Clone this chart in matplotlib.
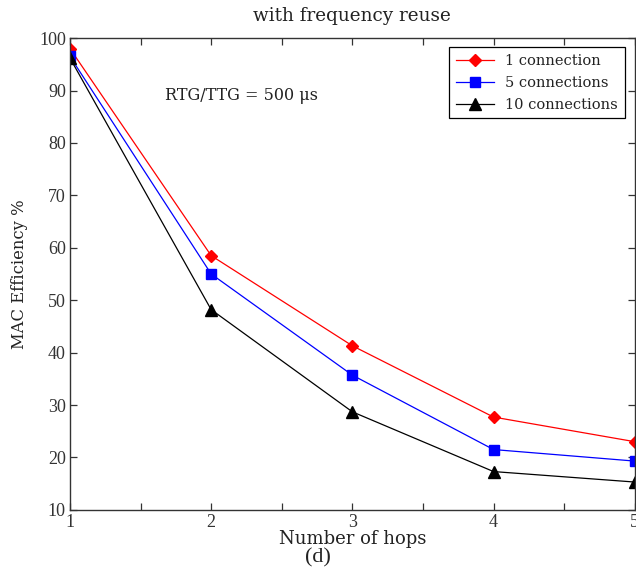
import matplotlib
matplotlib.use("Agg")
import matplotlib.pyplot as plt
from matplotlib.ticker import MultipleLocator

hops = [1, 2, 3, 4, 5]
eff_1conn = [98.0, 58.5, 41.3, 27.7, 23.0]
eff_5conn = [96.5, 55.0, 35.7, 21.5, 19.3]
eff_10conn = [96.2, 48.2, 28.7, 17.3, 15.3]
x_ticklabels = ["1", "", "2", "", "3", "", "4", "", "5"]

plt.rcParams["font.family"] = ["Liberation Serif", "DejaVu Serif"]
slab = ["DejaVu Serif"]
txt = "#222222"

fig = plt.figure(figsize=(6.36, 5.69), dpi=100)
ax = fig.add_axes([0.110, 0.104, 0.888, 0.829])

ax.plot(hops, eff_1conn, color="#ff0000", marker="D", markersize=6.5,
        linewidth=0.9, label="1 connection")
ax.plot(hops, eff_5conn, color="#0000ff", marker="s", markersize=7.5,
        linewidth=0.9, label="5 connections")
ax.plot(hops, eff_10conn, color="black", marker="^", markersize=8,
        linewidth=0.9, label="10 connections")

ax.set_xlim(1, 5)
ax.set_ylim(10, 100)
ax.set_xticks([1, 1.5, 2, 2.5, 3, 3.5, 4, 4.5, 5])
ax.set_xticklabels(x_ticklabels)
ax.yaxis.set_major_locator(MultipleLocator(10))
ax.tick_params(direction="in", top=True, right=True, length=5,
               labelsize=13, width=0.9, colors="#333333", pad=3)
for s in ax.spines.values():
    s.set_linewidth(1.0)
    s.set_color("#333333")

ax.set_xlabel("Number of hops", fontsize=13, family=slab, color=txt, labelpad=-1)
ax.set_ylabel("MAC Efficiency %", fontsize=11.8, family=slab, color=txt, labelpad=8)
ax.set_title("with frequency reuse", fontsize=13.2, family=slab, color=txt, pad=12)
ax.text(1.67, 89.1, "RTG/TTG = 500 \u03bcs", fontsize=11.5, family=slab,
        color=txt, va="center")

leg = ax.legend(loc="upper right", prop={"family": "DejaVu Serif", "size": 10.5},
                fancybox=False, framealpha=1, edgecolor="black", borderpad=0.45,
                handlelength=2.6, labelspacing=0.55, borderaxespad=0,
                bbox_to_anchor=(0.982, 0.981))
leg.get_frame().set_linewidth(0.9)
for t in leg.get_texts():
    t.set_color(txt)

fig.text(0.5, 0.02, "(d)", fontsize=16, ha="center", va="center", color=txt)

fig.savefig("out.png", dpi=100, facecolor="white")
